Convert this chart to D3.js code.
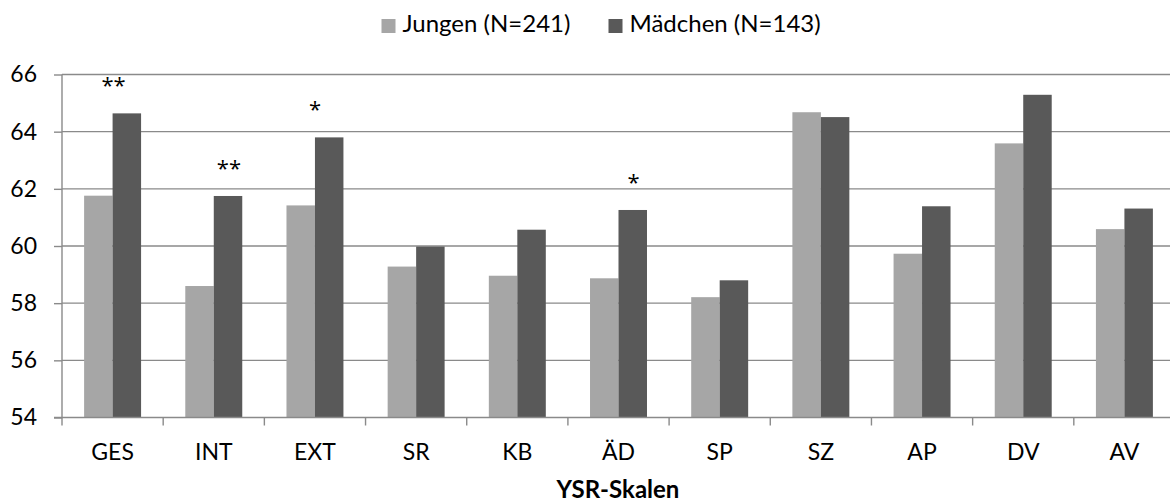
<!DOCTYPE html>
<html>
<head>
<meta charset="utf-8">
<script src="https://cdn.jsdelivr.net/npm/d3@7"></script>
<style>
  html, body { margin: 0; padding: 0; background: #fff; }
  svg { display: block; }
  text { font-family: Lato, "Open Sans", sans-serif; fill: #000; }
</style>
</head>
<body>
<svg id="chart" width="1170" height="504"></svg>
<script>
// ---- data ----
const categories = ["GES", "INT", "EXT", "SR", "KB", "ÄD", "SP", "SZ", "AP", "DV", "AV"];
const seriesNames = ["Jungen (N=241)", "Mädchen (N=143)"];
const jungen  = [61.76, 58.60, 61.42, 59.28, 58.96, 58.87, 58.21, 64.68, 59.73, 63.59, 60.59];
const maedchen = [64.64, 61.75, 63.80, 59.98, 60.57, 61.26, 58.80, 64.51, 61.39, 65.29, 61.31];
const significance = ["**", "**", "*", "", "", "*", "", "", "", "", ""];
const yTicks = [54, 56, 58, 60, 62, 64, 66];
const xTitle = "YSR-Skalen";

// ---- layout / style ----
const colors = ["#a6a6a6", "#595959"];
const sigAnchor = [0.51, 0.65, 0.5, 0.5, 0.5, 0.65, 0.5, 0.5, 0.5, 0.5, 0.5]; // fraction of band

const svg = d3.select("#chart");
const x0 = d3.scaleBand().domain(categories).range([62, 1175]).padding(0);
const x1 = d3.scaleBand().domain(seriesNames)
  .range([x0.bandwidth() * 0.2185, x0.bandwidth() * 0.7815]).padding(0);
const y = d3.scaleLinear().domain([54, 66]).range([417.5, 74.5]);

// gridlines
svg.append("g").selectAll("line").data(yTicks.slice(1)).join("line")
  .attr("x1", 62).attr("x2", 1175)
  .attr("y1", d => y(d)).attr("y2", d => y(d))
  .attr("stroke", "#8a8a8a").attr("stroke-width", 1.4);

// y axis
const yAxis = d3.axisLeft(y).tickValues(yTicks).tickSize(8).tickPadding(17).tickFormat(d3.format("d"));
const gy = svg.append("g").attr("transform", "translate(62,0)").call(yAxis);
gy.select(".domain").attr("stroke", "#8a8a8a").attr("stroke-width", 1.4).attr("d", `M-8,${y(54)}H0V${y(66)}`);
gy.selectAll(".tick line").attr("stroke", "#8a8a8a").attr("stroke-width", 1.4);
gy.selectAll(".tick text").style("font-size", "23px").style("font-family", "Lato").attr("fill", "#000");

// bars
const data = categories.map((c, i) => ({ c, vals: [jungen[i], maedchen[i]] }));
const groups = svg.append("g").selectAll("g").data(data).join("g")
  .attr("transform", d => `translate(${x0(d.c)},0)`);
groups.selectAll("rect").data(d => d.vals.map((v, j) => ({ name: seriesNames[j], v, j }))).join("rect")
  .attr("x", d => x1(d.name))
  .attr("width", x1.bandwidth())
  .attr("y", d => y(d.v))
  .attr("height", d => y(54) - y(d.v))
  .attr("fill", d => colors[d.j]);

// x axis
const xAxisLine = svg.append("g");
xAxisLine.append("line").attr("x1", 62).attr("x2", 1175).attr("y1", y(54)).attr("y2", y(54))
  .attr("stroke", "#8a8a8a").attr("stroke-width", 1.4);
xAxisLine.selectAll("line.tk").data(categories).join("line").attr("class", "tk")
  .attr("x1", d => x0(d)).attr("x2", d => x0(d))
  .attr("y1", y(54)).attr("y2", y(54) + 8)
  .attr("stroke", "#8a8a8a").attr("stroke-width", 1.4);
svg.append("g").selectAll("text").data(categories).join("text")
  .attr("x", d => x0(d) + x0.bandwidth() / 2)
  .attr("y", 460)
  .attr("text-anchor", "middle")
  .style("font-size", "23px")
  .text(d => d);

// x title
svg.append("text").attr("x", 618).attr("y", 498).attr("text-anchor", "middle")
  .style("font-size", "24px").style("font-weight", "bold").text(xTitle);

// significance markers
svg.append("g").selectAll("text").data(data.filter((d, i) => significance[i])).join("text")
  .attr("x", d => x0(d.c) + x0.bandwidth() * sigAnchor[categories.indexOf(d.c)])
  .attr("y", d => y(d.vals[1]) - 20)
  .attr("text-anchor", "middle")
  .style("font-family", "'Open Sans', sans-serif")
  .style("font-size", "22px")
  .text(d => significance[categories.indexOf(d.c)]);

// legend
const legendX = [381.5, 608.5];
const lg = svg.append("g").selectAll("g").data(seriesNames).join("g")
  .attr("transform", (d, i) => `translate(${legendX[i]},19)`);
lg.append("rect").attr("width", 14).attr("height", 14).attr("fill", (d, i) => colors[i]);
lg.append("text").attr("x", 21).attr("y", 13).style("font-size", "24px").text(d => d);
</script>
</body>
</html>
